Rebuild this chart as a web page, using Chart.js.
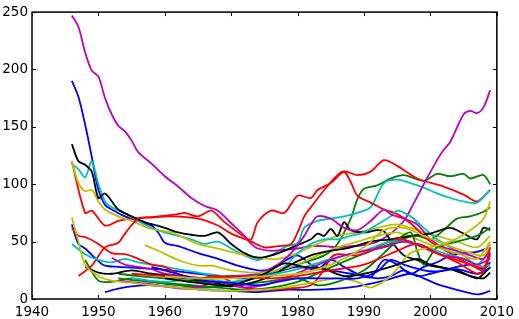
<!DOCTYPE html>
<html>
<head>
<meta charset="utf-8">
<script src="https://cdn.jsdelivr.net/npm/chart.js@4.4.0/dist/chart.umd.min.js"></script>
<style>
  html, body { margin: 0; padding: 0; background: #fff; }
  #wrap { width: 519px; height: 319px; }
</style>
</head>
<body>
<div id="wrap"><canvas id="grafico"></canvas></div>
<script>
// valores: [ano, valor]
var magenta1 = [[1946,247],[1947,237],[1948,215],[1949,199],[1950,194],[1951,175],[1952,161],[1953,151],[1954,146],[1955,138],[1956,128],[1958,118],[1960,107],[1962,98],[1964,88],[1966,81],[1968,77],[1970,66],[1972,55],[1973,48],[1974,44],[1976,42],[1978,43],[1980,44],[1982,46],[1984,46],[1986,45],[1988,46],[1990,47],[1992,50],[1994,57],[1996,68],[1997,78],[1999,100],[2001,121],[2002,130],[2003,137],[2005,161],[2006,164],[2007,162],[2008,167],[2009,182]];
var magenta2 = [[1952,36],[1954,30],[1956,28],[1958,26],[1960,22],[1963,20],[1966,18],[1970,20],[1974,22],[1977,30],[1979,40],[1981,55],[1982,65],[1983,72],[1985,70],[1987,62],[1989,60],[1991,68],[1993,78],[1994,74],[1996,70],[1998,65],[2000,52],[2002,45],[2004,42],[2006,38],[2008,35],[2009,45]];
var magenta3 = [[1953,16],[1956,14],[1958,13],[1960,11],[1963,9],[1966,12],[1968,15],[1970,12],[1972,10],[1975,12],[1978,18],[1981,25],[1984,32],[1987,38],[1990,42],[1993,45],[1996,50],[1999,45],[2002,38],[2005,35],[2007,30],[2009,35]];

var blue1 = [[1946,190],[1947,176],[1948,152],[1949,124],[1950,95],[1951,82],[1952,78],[1954,72],[1956,68],[1958,64],[1959,58],[1960,49],[1962,46],[1965,40],[1968,35],[1971,29],[1974,25],[1976,26],[1978,33],[1980,38],[1982,30],[1984,26],[1986,24],[1988,22],[1990,20],[1992,18],[1994,20],[1996,25],[1998,20],[2000,22],[2002,25],[2004,28],[2006,30],[2008,26],[2009,32]];
var blue2 = [[1946,65],[1947,48],[1948,44],[1950,33],[1951,29],[1953,28],[1956,27],[1959,26],[1962,24],[1965,22],[1968,20],[1971,18],[1974,20],[1977,24],[1980,28],[1983,26],[1985,34],[1987,28],[1989,22],[1991,19],[1993,34],[1995,30],[1997,22],[1999,28],[2001,32],[2003,38],[2005,40],[2007,41],[2009,45]];
var blue3 = [[1951,6],[1953,9],[1955,11],[1958,12],[1962,10],[1966,8],[1970,7],[1974,6],[1978,8],[1982,8],[1986,9],[1989,11],[1993,16],[1997,22],[1999,18],[2001,13],[2004,8],[2007,4],[2009,7]];
var blue4 = [[1958,28],[1960,25],[1963,20],[1966,16],[1970,14],[1974,12],[1977,15],[1980,18],[1983,18],[1986,18],[1989,18],[1992,24],[1994,34],[1996,30],[1999,25],[2001,24],[2004,26],[2007,22],[2009,27]];

var black1 = [[1946,135],[1947,120],[1948,117],[1949,111],[1950,88],[1951,92],[1953,78],[1955,72],[1957,67],[1960,62],[1962,58],[1964,56],[1966,55],[1968,58],[1970,48],[1972,40],[1974,36],[1976,38],[1978,42],[1980,47],[1982,52],[1983,57],[1984,55],[1985,61],[1986,55],[1987,67],[1988,60],[1990,58],[1992,60],[1993,59],[1994,51],[1996,38],[1998,34],[2000,29],[2004,25],[2007,18],[2008,22],[2009,28]];
var black2 = [[1948,28],[1950,23],[1952,22],[1955,25],[1958,22],[1961,20],[1964,17],[1967,15],[1970,11],[1973,14],[1976,20],[1979,30],[1982,38],[1985,42],[1988,45],[1991,50],[1994,52],[1997,55],[2000,57],[2001,59],[2003,62],[2005,57],[2007,52],[2008,62],[2009,60]];
var black3 = [[1960,18],[1965,14],[1970,12],[1975,22],[1978,31],[1981,28],[1984,26],[1987,20],[1990,22],[1994,28],[1998,35],[2000,30],[2003,26],[2006,20],[2008,18],[2009,23]];

var cyan1 = [[1946,118],[1947,113],[1948,106],[1949,120],[1950,100],[1951,85],[1952,80],[1954,75],[1956,68],[1958,62],[1960,58],[1962,55],[1964,52],[1966,48],[1968,50],[1970,44],[1972,38],[1974,34],[1976,38],[1978,45],[1980,49],[1981,62],[1983,68],[1985,70],[1987,72],[1989,75],[1991,80],[1993,101],[1995,104],[1997,101],[1999,97],[2001,92],[2003,88],[2005,85],[2007,84],[2009,95]];
var cyan2 = [[1946,48],[1948,39],[1950,34],[1952,32],[1954,35],[1956,32],[1958,30],[1960,28],[1963,25],[1966,22],[1969,20],[1972,20],[1975,22],[1978,28],[1980,40],[1982,48],[1984,52],[1986,52],[1988,55],[1990,58],[1992,65],[1994,72],[1995,77],[1997,72],[1999,62],[2001,52],[2003,45],[2005,38],[2007,30],[2009,42]];
var cyan3 = [[1955,18],[1960,15],[1965,18],[1970,15],[1975,20],[1980,26],[1985,35],[1990,42],[1994,50],[1998,48],[2002,40],[2005,35],[2008,28],[2009,30]];

var green1 = [[1953,22],[1956,20],[1960,18],[1964,16],[1968,14],[1972,16],[1976,22],[1980,30],[1984,38],[1986,48],[1988,70],[1989,87],[1990,96],[1992,99],[1994,105],[1996,108],[1999,103],[2001,109],[2003,107],[2005,109],[2006,105],[2008,108],[2009,100]];
var green2 = [[1948,34],[1950,16],[1952,15],[1955,18],[1958,15],[1962,12],[1966,10],[1970,12],[1975,15],[1980,18],[1983,12],[1986,15],[1990,25],[1993,40],[1995,50],[1998,55],[2000,52],[2002,60],[2004,70],[2006,72],[2008,76],[2009,80]];
var green3 = [[1953,18],[1956,16],[1960,14],[1964,12],[1968,10],[1972,8],[1976,10],[1980,15],[1984,25],[1988,35],[1991,42],[1994,48],[1997,58],[1998,42],[1999,30],[2001,45],[2004,50],[2007,55],[2009,62]];

var yellow1 = [[1946,120],[1947,101],[1948,94],[1949,95],[1950,85],[1951,78],[1953,72],[1955,68],[1958,61],[1961,58],[1965,48],[1968,44],[1970,41],[1974,36],[1977,35],[1980,40],[1983,48],[1986,55],[1989,58],[1992,62],[1995,65],[1998,60],[2001,55],[2004,50],[2007,45],[2009,55]];
var yellow2 = [[1957,47],[1959,42],[1962,34],[1965,29],[1967,29],[1970,25],[1974,23],[1977,25],[1980,30],[1983,38],[1986,45],[1989,50],[1992,55],[1995,58],[1998,52],[2001,45],[2004,40],[2007,35],[2009,50]];
var yellow3 = [[1946,71],[1947,50],[1948,30],[1950,20],[1952,16],[1955,14],[1958,12],[1962,10],[1966,8],[1970,7],[1974,8],[1978,10],[1982,14],[1986,18],[1989,15],[1991,10],[1994,20],[1997,40],[2000,45],[2003,50],[2006,60],[2008,70],[2009,85]];
var yellow4 = [[1960,20],[1965,18],[1970,18],[1975,20],[1980,22],[1985,30],[1990,45],[1993,60],[1996,62],[1999,55],[2002,48],[2005,42],[2008,38],[2009,48]];

var red1 = [[1946,120],[1948,75],[1949,77],[1951,64],[1953,68],[1955,70],[1959,72],[1962,74],[1963,75],[1965,72],[1967,77],[1969,67],[1972,54],[1973,52],[1974,67],[1976,77],[1978,75],[1980,90],[1982,88],[1983,95],[1985,101],[1987,111],[1989,108],[1991,111],[1993,121],[1995,116],[1998,105],[2002,98],[2005,91],[2007,85],[2009,95]];
var red2 = [[1947,20],[1949,29],[1951,45],[1953,49],[1954,57],[1956,70],[1958,71],[1961,72],[1965,70],[1968,64],[1970,57],[1973,50],[1975,45],[1977,46],[1979,48],[1980,58],[1981,72],[1982,80],[1984,95],[1986,108],[1987,111],[1988,102],[1989,90],[1991,84],[1993,78],[1995,74],[1997,66],[2000,50],[2003,40],[2006,30],[2008,28],[2009,38]];
var red3 = [[1946,62],[1947,55],[1948,54],[1950,48],[1952,40],[1954,39],[1956,35],[1958,30],[1960,28],[1962,22],[1965,18],[1968,20],[1970,15],[1972,10],[1975,8],[1978,9],[1982,12],[1984,26],[1985,36],[1986,39],[1989,38],[1991,42],[1993,48],[1995,52],[1997,50],[2000,42],[2003,36],[2006,30],[2008,25],[2009,40]];
var red4 = [[1955,22],[1960,20],[1965,18],[1970,20],[1975,18],[1980,20],[1985,25],[1990,30],[1995,42],[1998,48],[2001,40],[2004,32],[2007,22],[2008,24],[2009,45]];

var series = [
    [blue1, '#0000ff'], [green1, '#008000'], [red1, '#ff0000'], [cyan1, '#00bfbf'], [magenta1, '#bf00bf'], [yellow1, '#bfbf00'], [black1, '#000000'],
    [blue2, '#0000ff'], [green2, '#008000'], [red2, '#ff0000'], [cyan2, '#00bfbf'], [magenta2, '#bf00bf'], [yellow2, '#bfbf00'], [black2, '#000000'],
    [blue3, '#0000ff'], [green3, '#008000'], [red3, '#ff0000'], [cyan3, '#00bfbf'], [magenta3, '#bf00bf'], [yellow3, '#bfbf00'], [black3, '#000000'],
    [blue4, '#0000ff'], [red4, '#ff0000'], [yellow4, '#bfbf00']
];

var datasets = series.map(function (s, i) {
    return {
        label: 'serie ' + (i + 1),
        data: s[0].map(function (p) { return { x: p[0], y: p[1] }; }),
        borderColor: s[1],
        borderWidth: 1.8,
        pointRadius: 0,
        tension: 0.3,
        fill: false,
        order: series.length - i
    };
});

// moldura e marcas para dentro, como no matplotlib
var moldura = {
    id: 'moldura',
    afterDraw: function (chart) {
        var c = chart.ctx, a = chart.chartArea;
        var sx = chart.scales.x, sy = chart.scales.y;
        c.save();
        c.strokeStyle = '#000';
        c.lineWidth = 1.5;
        c.strokeRect(a.left, a.top, a.right - a.left, a.bottom - a.top);
        c.lineWidth = 1;
        c.beginPath();
        sx.ticks.forEach(function (t) {
            var px = Math.round(sx.getPixelForValue(t.value)) + 0.5;
            c.moveTo(px, a.bottom); c.lineTo(px, a.bottom - 4);
            c.moveTo(px, a.top); c.lineTo(px, a.top + 4);
        });
        sy.ticks.forEach(function (t) {
            var py = Math.round(sy.getPixelForValue(t.value)) + 0.5;
            c.moveTo(a.left, py); c.lineTo(a.left + 4, py);
            c.moveTo(a.right, py); c.lineTo(a.right - 4, py);
        });
        c.stroke();
        c.restore();
    }
};

var ctx = document.getElementById('grafico').getContext('2d');
var meuGrafico = new Chart(ctx, {
    type: 'line',
    data: { datasets: datasets },
    plugins: [moldura],
    options: {
        responsive: true,
        maintainAspectRatio: false,
        animation: false,
        layout: { padding: { left: 0, right: 21, top: 9, bottom: 0 } },
        plugins: { legend: { display: false }, tooltip: { enabled: false } },
        scales: {
            x: {
                type: 'linear',
                min: 1940,
                max: 2010,
                grid: { display: false, drawTicks: false },
                border: { display: false },
                ticks: {
                    stepSize: 10,
                    padding: 5,
                    color: '#000',
                    maxRotation: 0,
                    font: { family: 'DejaVu Sans', size: 13.5 },
                    callback: function (v) { return String(v); }
                },
                afterFit: function (s) { s.height = 20; }
            },
            y: {
                min: 0,
                max: 250,
                grid: { display: false, drawTicks: false },
                border: { display: false },
                ticks: {
                    stepSize: 50,
                    padding: 4,
                    color: '#000',
                    font: { family: 'DejaVu Sans', size: 13.5 }
                },
                afterFit: function (s) { s.width = 32; }
            }
        }
    }
});
</script>
</body>
</html>
